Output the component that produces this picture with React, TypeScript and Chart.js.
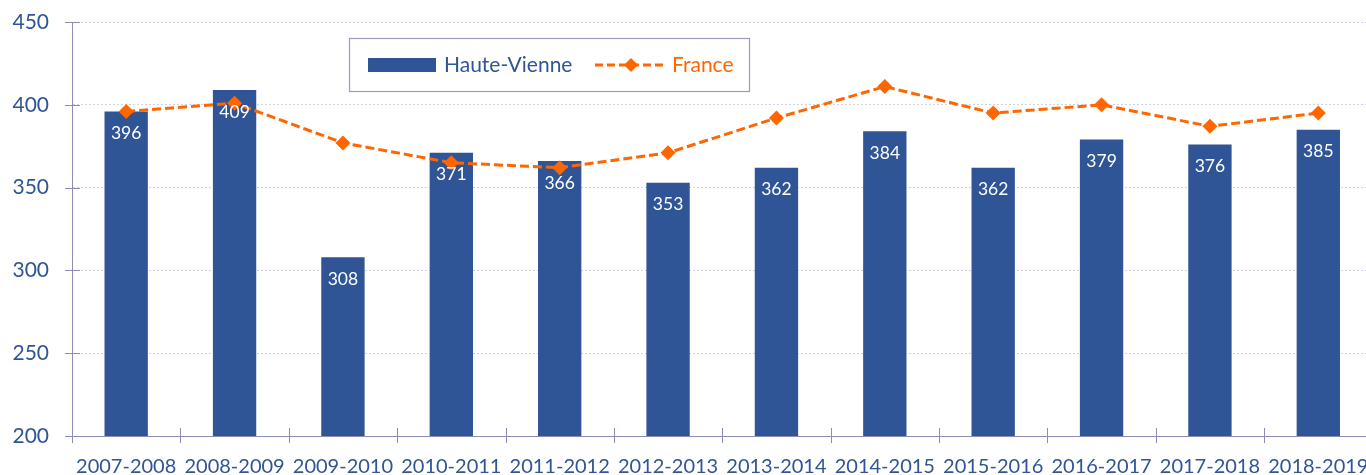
import React, { useEffect, useRef } from "react";
import { Chart, registerables } from "chart.js";

Chart.register(...registerables);

const categories = [
  "2007-2008", "2008-2009", "2009-2010", "2010-2011", "2011-2012", "2012-2013",
  "2013-2014", "2014-2015", "2015-2016", "2016-2017", "2017-2018", "2018-2019",
];
const hauteVienne = [396, 409, 308, 371, 366, 353, 362, 384, 362, 379, 376, 385];
const france = [396, 401, 377, 365, 362, 371, 392, 411, 395, 400, 387, 395];
const seriesNames = ["Haute-Vienne", "France"];
const yMin = 200;
const yMax = 450;
const yStep = 50;

const BLUE = "#2F5597";
const ORANGE = "#FF6600";
const AXIS = "#8C8CB8";
const GRID = "#D0D0E2";
const FONT = "Lato";

const crossTicks = {
  id: "crossTicks",
  afterDraw(chart: any) {
    const { ctx, chartArea, scales } = chart;
    const x = scales.x;
    const y = scales.y;
    ctx.save();
    ctx.strokeStyle = AXIS;
    ctx.lineWidth = 1;
    ctx.beginPath();
    y.ticks.forEach((t: any) => {
      const py = Math.round(y.getPixelForValue(t.value)) + 0.5;
      ctx.moveTo(chartArea.left - 7, py);
      ctx.lineTo(chartArea.left + 8, py);
    });
    const n = categories.length;
    const w = (chartArea.right - chartArea.left) / n;
    for (let i = 0; i <= n; i++) {
      const px = Math.round(x.left + i * w) + 0.5;
      ctx.moveTo(px, chartArea.bottom - 8);
      ctx.lineTo(px, chartArea.bottom + 7);
    }
    ctx.stroke();
    ctx.restore();
  },
};

const barLabels = {
  id: "barLabels",
  afterDatasetsDraw(chart: any) {
    const { ctx } = chart;
    const meta = chart.getDatasetMeta(1);
    ctx.save();
    ctx.fillStyle = "#FFFFFF";
    ctx.font = `17.5px ${FONT}`;
    ctx.textAlign = "center";
    ctx.textBaseline = "middle";
    meta.data.forEach((el: any, i: number) => {
      ctx.fillText(String(hauteVienne[i]), el.x, el.y + 22);
    });
    ctx.restore();
  },
};

const customLegend = {
  id: "customLegend",
  afterDraw(chart: any) {
    const { ctx } = chart;
    ctx.save();
    ctx.strokeStyle = "#9C9CC2";
    ctx.lineWidth = 1.2;
    ctx.strokeRect(349.5, 38.5, 400, 53);
    ctx.fillStyle = BLUE;
    ctx.fillRect(368, 58, 68, 14);
    ctx.font = `21px ${FONT}`;
    ctx.textBaseline = "middle";
    ctx.textAlign = "left";
    ctx.fillStyle = BLUE;
    ctx.fillText(seriesNames[0], 444, 65);
    ctx.strokeStyle = ORANGE;
    ctx.lineWidth = 3;
    ctx.setLineDash([8, 4]);
    ctx.beginPath();
    ctx.moveTo(595, 65);
    ctx.lineTo(666, 65);
    ctx.stroke();
    ctx.setLineDash([]);
    ctx.fillStyle = ORANGE;
    ctx.beginPath();
    ctx.moveTo(631, 58);
    ctx.lineTo(638, 65);
    ctx.lineTo(631, 72);
    ctx.lineTo(624, 65);
    ctx.closePath();
    ctx.fill();
    ctx.fillText(seriesNames[1], 672, 65);
    ctx.restore();
  },
};

export default function App() {
  const ref = useRef<HTMLCanvasElement>(null);
  useEffect(() => {
    document.body.style.margin = "0";
    document.body.style.overflow = "hidden";
    const chart = new Chart(ref.current!, {
      type: "bar",
      data: {
        labels: categories,
        datasets: [
          {
            type: "line",
            label: seriesNames[1],
            data: france,
            borderColor: ORANGE,
            backgroundColor: ORANGE,
            borderWidth: 3,
            borderDash: [9, 4],
            pointStyle: "rectRot",
            pointRadius: 7.5,
            pointBorderWidth: 0,
            pointBackgroundColor: ORANGE,
            tension: 0,
            order: 0,
          } as any,
          {
            type: "bar",
            label: seriesNames[0],
            data: hauteVienne,
            backgroundColor: BLUE,
            barPercentage: 0.4,
            categoryPercentage: 1,
            order: 1,
          },
        ],
      },
      options: {
        responsive: false,
        animation: false,
        devicePixelRatio: 1,
        layout: { padding: { top: 22, right: 0, left: 0, bottom: 0 } },
        plugins: { legend: { display: false }, tooltip: { enabled: false } },
        scales: {
          x: {
            grid: { display: false, drawTicks: false },
            border: { display: true, color: AXIS, width: 1 },
            ticks: {
              color: BLUE,
              font: { family: FONT, size: 20 },
              padding: 19,
              maxRotation: 0,
              autoSkip: false,
            },
            afterFit(scale: any) {
              scale.height = 39;
              scale.paddingLeft = 0;
              scale.paddingRight = 0;
            },
          },
          y: {
            min: yMin,
            max: yMax,
            grid: {
              drawTicks: false,
              color: (c: any) => (c.tick && c.tick.value === yMin ? "rgba(0,0,0,0)" : GRID),
              lineWidth: 1,
            },
            border: { display: true, color: AXIS, width: 1, dash: [2, 2] },
            ticks: {
              stepSize: yStep,
              color: BLUE,
              font: { family: FONT, size: 21 },
              padding: 23,
            },
            afterFit(scale: any) {
              scale.width = 72;
              scale.paddingTop = 0;
              scale.paddingBottom = 0;
            },
          },
        },
      },
      plugins: [crossTicks, barLabels, customLegend],
    });
    return () => chart.destroy();
  }, []);
  return (
    <div style={{ position: "fixed", left: 0, top: 0, width: 1366, height: 475, overflow: "hidden" }}>
      <canvas ref={ref} width={1380} height={475} style={{ display: "block" }} />
    </div>
  );
}
